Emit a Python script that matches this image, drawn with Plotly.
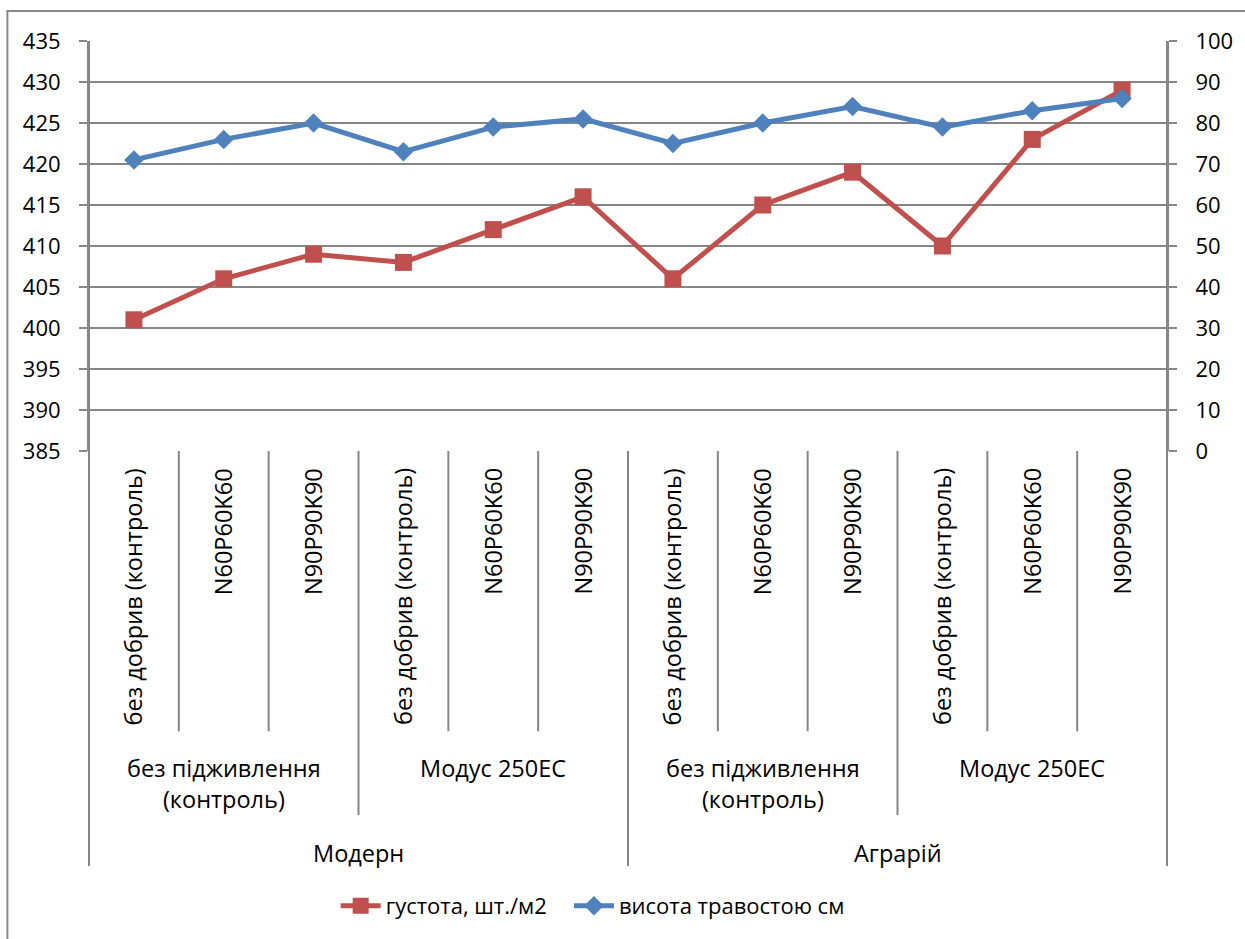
import plotly.graph_objects as go

# ---- data ----
level1 = ["без добрив (контроль)", "N60P60K60", "N90P90K90"] * 4
level2 = ["без підживлення<br>(контроль)", "Модус 250ЕС", "без підживлення<br>(контроль)", "Модус 250ЕС"]
level3 = ["Модерн", "Аграрій"]
density = [401, 406, 409, 408, 412, 416, 406, 415, 419, 410, 423, 429]   # густота, шт./м2 (left axis)
height = [71, 76, 80, 73, 79, 81, 75, 80, 84, 79, 83, 86]                # висота травостою см (right axis)
left_ticks = list(range(385, 436, 5))
right_ticks = list(range(0, 101, 10))
series_names = ["густота, шт./м2", "висота травостою см"]

RED = "#C0504D"
BLUE = "#4F81BD"
GRID = "#868686"
FONT = "Open Sans"
FS = 22
FSA = 23.5

n = len(level1)
xs = list(range(n))

fig = go.Figure()
fig.add_trace(go.Scatter(
    x=xs, y=density, name=series_names[0] + "\u00a0\u00a0\u00a0", mode="lines+markers",
    line=dict(color=RED, width=5), marker=dict(symbol="square", size=17, color=RED),
    yaxis="y"))
fig.add_trace(go.Scatter(
    x=xs, y=height, name=series_names[1], mode="lines+markers",
    line=dict(color=BLUE, width=5), marker=dict(symbol="diamond", size=15, color=BLUE),
    yaxis="y2"))

PLOT_H = 411.0
def py(Y):  # pixel Y -> paper y
    return (452 - Y) / PLOT_H
def px(X):
    return (X - 89) / 1083.0

shapes = []
# category separators
for b in range(n + 1):
    xp = b / n
    if b == 0 or b == n or b == 6:
        y1 = py(868)
    elif b % 3 == 0:
        y1 = py(817)
    else:
        y1 = py(733)
    y0 = 1.0 if b in (0, n) else 0.0
    shapes.append(dict(type="line", xref="paper", yref="paper", x0=xp, x1=xp, y0=y0, y1=y1,
                       line=dict(color=GRID, width=2)))
# outer chart border
shapes.append(dict(type="rect", xref="paper", yref="paper", x0=px(7), x1=px(1300), y0=py(11), y1=py(1000),
                   line=dict(color="#898989", width=2), fillcolor="rgba(0,0,0,0)", layer="below"))

annotations = []
for i, lab in enumerate(level1):
    annotations.append(dict(x=i, y=py(467), xref="x", yref="paper", text=lab, textangle=-90,
                            showarrow=False, xanchor="center", yanchor="top",
                            font=dict(family=FONT, size=FSA, color="black")))
for g, lab in enumerate(level2):
    annotations.append(dict(x=g * 3 + 1, y=py(752), xref="x", yref="paper", text=lab,
                            showarrow=False, xanchor="center", yanchor="top",
                            font=dict(family=FONT, size=FSA, color="black")))
for g, lab in enumerate(level3):
    annotations.append(dict(x=g * 6 + 2.5, y=py(855), xref="x", yref="paper", text=lab,
                            showarrow=False, xanchor="center", yanchor="middle",
                            font=dict(family=FONT, size=FSA, color="black")))

fig.update_layout(
    width=1245, height=939,
    margin=dict(l=89, r=73, t=41, b=487),
    paper_bgcolor="white", plot_bgcolor="white",
    font=dict(family=FONT, size=FS, color="black"),
    xaxis=dict(range=[-0.5, n - 0.5], showticklabels=False, showgrid=False, zeroline=False,
               showline=False, ticks=""),
    yaxis=dict(range=[385, 435], tickvals=left_ticks, showgrid=True, gridcolor=GRID, gridwidth=2,
               ticks="outside", ticklen=8, tickcolor=GRID, tickwidth=2, zeroline=False,
               showline=True, linecolor=GRID, linewidth=2, ticklabelstandoff=14,
               tickfont=dict(family=FONT, size=FS, color="black")),
    yaxis2=dict(range=[0, 100], tickvals=right_ticks, overlaying="y", side="right", showgrid=False,
                ticks="outside", ticklen=8, tickcolor=GRID, tickwidth=2, zeroline=False,
                showline=True, linecolor=GRID, linewidth=2, ticklabelstandoff=14,
                tickfont=dict(family=FONT, size=FS, color="black")),
    legend=dict(orientation="h", x=px(595), xanchor="center", y=py(908), yanchor="middle",
                font=dict(family=FONT, size=FS, color="black"), itemwidth=40,
                bgcolor="rgba(0,0,0,0)"),
    shapes=shapes, annotations=annotations,
    showlegend=True,
)

fig.write_html("out.html")
